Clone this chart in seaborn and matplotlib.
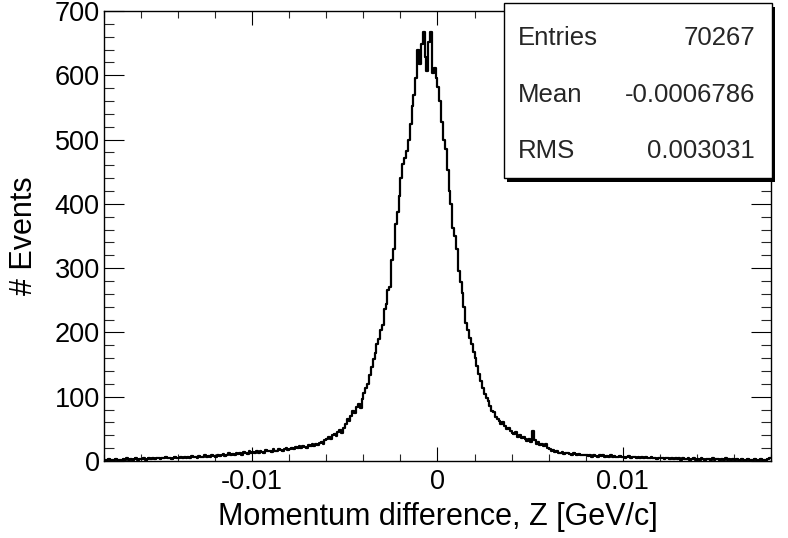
import numpy as np
import pandas as pd
import matplotlib
matplotlib.use("Agg")
import matplotlib.pyplot as plt
from matplotlib.patches import Rectangle
from matplotlib import ticker
import seaborn as sns

# ---- data ----
x_min, x_max, n_bins = -0.018, 0.018, 360
counts = [
    2, 1, 3, 2, 1, 2, 3, 2, 2, 1, 3, 2, 4, 2, 3, 2, 3, 4, 2, 3,
    3, 4, 2, 3, 5, 3, 4, 3, 5, 4, 3, 5, 4, 6, 4, 5, 3, 5, 6, 4,
    5, 6, 4, 7, 5, 6, 5, 8, 6, 7, 5, 8, 7, 6, 9, 7, 8, 6, 9, 8,
    7, 10, 8, 9, 11, 8, 10, 12, 9, 11, 10, 13, 11, 12, 10, 14, 12, 11, 15, 13,
    14, 12, 15, 13, 16, 14, 12, 17, 15, 16, 14, 18, 16, 15, 19, 17, 16, 18, 20, 17,
    19, 21, 18, 22, 20, 23, 21, 24, 22, 20, 25, 23, 26, 24, 27, 25, 28, 30, 27, 32,
    35, 38, 34, 40, 42, 39, 45, 48, 44, 52, 58, 66, 62, 70, 78, 74, 84, 88, 82, 96,
    106, 114, 120, 134, 146, 158, 168, 182, 190, 204, 212, 236, 244, 266, 270, 312, 330, 368, 388, 412,
    440, 462, 472, 482, 500, 524, 552, 570, 596, 640, 618, 648, 668, 628, 606, 652, 668, 604, 612, 596,
    582, 560, 528, 500, 486, 452, 420, 400, 362, 350, 330, 296, 278, 262, 240, 214, 204, 192, 182, 170,
    160, 148, 136, 124, 114, 104, 98, 94, 86, 78, 76, 68, 66, 62, 58, 60, 54, 50, 52, 46,
    44, 42, 45, 38, 40, 36, 38, 34, 31, 35, 30, 46, 32, 27, 29, 25, 27, 23, 26, 21,
    18, 16, 17, 14, 15, 13, 12, 14, 11, 13, 12, 11, 10, 12, 11, 9, 11, 10, 9, 10,
    9, 8, 10, 7, 9, 8, 7, 9, 8, 10, 7, 8, 6, 9, 7, 8, 6, 7, 8, 6,
    7, 5, 6, 8, 5, 6, 7, 5, 6, 4, 6, 5, 7, 4, 5, 6, 4, 5, 3, 5,
    4, 5, 3, 4, 5, 3, 4, 3, 5, 3, 4, 2, 4, 3, 3, 4, 2, 3, 4, 2,
    3, 2, 4, 3, 2, 3, 3, 2, 4, 2, 3, 3, 2, 3, 2, 4, 2, 3, 2, 3,
    2, 3, 2, 2, 3, 1, 2, 3, 2, 2, 1, 3, 2, 2, 3, 2, 1, 2, 3, 4,
]
stat_names = ["Entries", "Mean", "RMS"]
stat_values = ["70267", "-0.0006786", "0.003031"]
x_label = "Momentum difference, Z [GeV/c]"
y_label = "# Events"
y_max = 700

edges = np.linspace(x_min, x_max, n_bins + 1)
centers = 0.5 * (edges[:-1] + edges[1:])
df = pd.DataFrame({"z": centers, "n": np.asarray(counts, dtype=float)})

sns.set_style("ticks")
plt.rcParams["font.family"] = ["Liberation Sans", "DejaVu Sans"]
plt.rcParams["axes.unicode_minus"] = False

W, H = 788, 538
fig = plt.figure(figsize=(W / 100, H / 100), dpi=100)
ax = fig.add_axes([104 / W, 1 - 461 / H, (771 - 104) / W, (461 - 11) / H])

sns.histplot(data=df, x="z", weights="n", bins=n_bins, binrange=(x_min, x_max),
             element="step", fill=False, color="black", linewidth=1.6, ax=ax)

ax.set_xlim(x_min, x_max)
ax.set_ylim(0, y_max)
ax.xaxis.set_major_locator(ticker.MultipleLocator(0.01))
ax.xaxis.set_minor_locator(ticker.MultipleLocator(0.002))
ax.yaxis.set_major_locator(ticker.MultipleLocator(100))
ax.yaxis.set_minor_locator(ticker.MultipleLocator(20))
ax.xaxis.set_major_formatter(ticker.FormatStrFormatter("%g"))
ax.yaxis.set_major_formatter(ticker.FormatStrFormatter("%g"))

for s in ax.spines.values():
    s.set_visible(True)
    s.set_linewidth(1.0)
    s.set_color("black")

ax.tick_params(axis="x", which="major", direction="in", length=10, width=0.8,
               top=True, bottom=True, labelsize=19.5, pad=6, colors="black")
ax.tick_params(axis="x", which="minor", direction="in", length=5, width=0.8,
               top=True, bottom=True)
ax.tick_params(axis="y", which="major", direction="in", length=14.5, width=0.8,
               left=True, right=True, labelsize=19.5, pad=3, colors="black")
ax.tick_params(axis="y", which="minor", direction="in", length=7.2, width=0.8,
               left=True, right=True)

ax.set_xlabel(x_label, fontsize=22, labelpad=5, color="black")
ax.set_ylabel(y_label, fontsize=22, labelpad=11, color="black")

# stats box with shadow
bx0, bx1, by0, by1 = 503.5, 771.5, 3, 178
sh = 3.5
fig.add_artist(Rectangle(((bx0 + sh) / W, 1 - (by1 + sh) / H), (bx1 - bx0) / W,
                         (by1 - by0) / H, transform=fig.transFigure,
                         facecolor="black", edgecolor="black", lw=0, zorder=5))
fig.add_artist(Rectangle((bx0 / W, 1 - by1 / H), (bx1 - bx0) / W, (by1 - by0) / H,
                         transform=fig.transFigure, facecolor="white",
                         edgecolor="black", lw=1.0, zorder=6))
baselines = [45, 102, 158]
for name, val, b in zip(stat_names, stat_values, baselines):
    fig.text(518 / W, 1 - b / H, name, ha="left", va="baseline", fontsize=18.5, zorder=7)
    fig.text(755 / W, 1 - b / H, val, ha="right", va="baseline", fontsize=18.5, zorder=7)

fig.savefig("out.png", dpi=100, facecolor="white")
